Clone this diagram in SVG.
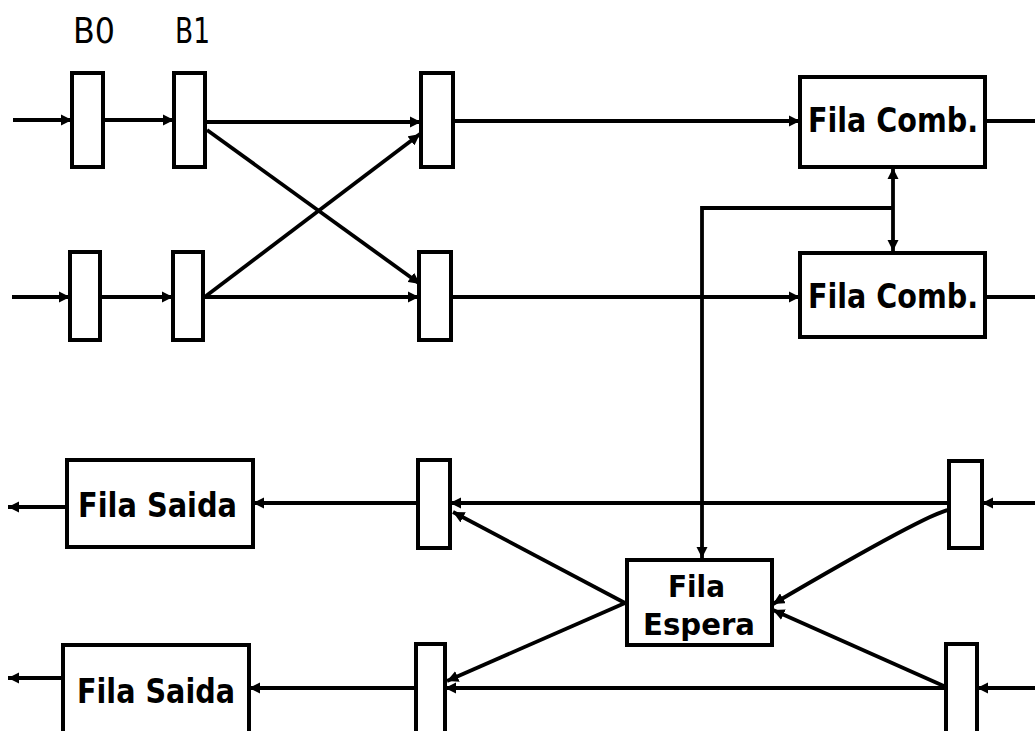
<svg xmlns="http://www.w3.org/2000/svg" width="1035" height="731" viewBox="0 0 1035 731">
<style>
.box{fill:#fff;stroke:#000;stroke-width:4}
.ln{fill:none;stroke:#000;stroke-width:3.8}
.la{fill:none;stroke:#000;stroke-width:3.8;marker-end:url(#ah)}
.lb{fill:none;stroke:#000;stroke-width:3.8;marker-end:url(#ah);marker-start:url(#as)}
.t{font-family:"DejaVu Sans Condensed","DejaVu Sans",sans-serif;font-weight:bold;font-size:33px;fill:#000}
.s{font-size:30px}
.h{font-family:"DejaVu Sans Condensed","DejaVu Sans",sans-serif;font-size:36px;fill:#000}
</style>
<defs>
<marker id="ah" viewBox="0 0 10 10" refX="10" refY="5" markerWidth="3" markerHeight="3" orient="auto" markerUnits="strokeWidth"><path d="M0,0 L10,5 L0,10 z" fill="#000"/></marker>
<marker id="as" viewBox="0 0 10 10" refX="0" refY="5" markerWidth="3" markerHeight="3" orient="auto" markerUnits="strokeWidth"><path d="M10,0 L0,5 L10,10 z" fill="#000"/></marker>
</defs>
<rect width="1035" height="731" fill="#fff"/>
<text class="h" x="73" y="43" textLength="42" lengthAdjust="spacingAndGlyphs">B0</text>
<text class="h" x="175" y="43" textLength="35" lengthAdjust="spacingAndGlyphs">B1</text>
<g id="connectors">
<line class="la" x1="13" y1="120" x2="72" y2="120"/>
<line class="la" x1="103" y1="120" x2="174" y2="120"/>
<line class="la" x1="205" y1="122" x2="421" y2="122"/>
<line class="la" x1="453" y1="121" x2="800" y2="121"/>
<line class="ln" x1="985" y1="121" x2="1035" y2="121"/>
<line class="la" x1="207" y1="130" x2="420" y2="284"/>
<line class="la" x1="206" y1="296" x2="420" y2="134"/>
<line class="la" x1="12" y1="297" x2="70" y2="297"/>
<line class="la" x1="100" y1="297" x2="173" y2="297"/>
<line class="la" x1="203" y1="297" x2="419" y2="297"/>
<line class="la" x1="451" y1="297" x2="800" y2="297"/>
<line class="ln" x1="985" y1="297" x2="1035" y2="297"/>
<line class="lb" x1="893" y1="168" x2="893" y2="251"/>
<polyline class="la" points="893,208 702,208 702,558"/>
<line class="la" x1="1035" y1="503" x2="982" y2="503"/>
<line class="la" x1="949" y1="503" x2="450" y2="503"/>
<line class="la" x1="418" y1="503" x2="253" y2="503"/>
<line class="la" x1="67" y1="507" x2="8" y2="507"/>
<path class="la" d="M949,510 Q930,512 773,604"/>
<line class="la" x1="946" y1="687" x2="773" y2="610"/>
<line class="la" x1="625" y1="603" x2="453" y2="512"/>
<line class="la" x1="625" y1="603" x2="447" y2="681"/>
<line class="la" x1="1035" y1="688" x2="977" y2="688"/>
<line class="la" x1="946" y1="688" x2="445" y2="688"/>
<line class="la" x1="416" y1="688" x2="249" y2="688"/>
<line class="la" x1="63" y1="678" x2="8" y2="678"/>
</g>
<g id="b0-top"><rect class="box" x="72" y="73" width="31" height="94"/></g>
<g id="b1-top"><rect class="box" x="174" y="73" width="31" height="94"/></g>
<g id="c3-top"><rect class="box" x="421" y="73" width="32" height="94"/></g>
<g id="b0-bot"><rect class="box" x="70" y="252" width="30" height="88"/></g>
<g id="b1-bot"><rect class="box" x="173" y="252" width="30" height="88"/></g>
<g id="c3-bot"><rect class="box" x="419" y="252" width="32" height="88"/></g>
<g id="comb1"><rect class="box" x="800" y="77" width="185" height="90"/><text class="t" x="808" y="132" textLength="170" lengthAdjust="spacingAndGlyphs">Fila Comb.</text></g>
<g id="comb2"><rect class="box" x="800" y="253" width="185" height="84"/><text class="t" x="808" y="308" textLength="170" lengthAdjust="spacingAndGlyphs">Fila Comb.</text></g>
<g id="saida1"><rect class="box" x="67" y="460" width="186" height="87"/><text class="t" x="78" y="517" textLength="159" lengthAdjust="spacingAndGlyphs">Fila Saida</text></g>
<g id="saida2"><rect class="box" x="63" y="645" width="186" height="95"/><text class="t" x="77" y="703" textLength="158" lengthAdjust="spacingAndGlyphs">Fila Saida</text></g>
<g id="c3-out1"><rect class="box" x="418" y="460" width="32" height="88"/></g>
<g id="c3-out2"><rect class="box" x="416" y="644" width="29" height="96"/></g>
<g id="r-out1"><rect class="box" x="949" y="461" width="33" height="87"/></g>
<g id="r-out2"><rect class="box" x="946" y="644" width="31" height="96"/></g>
<g id="espera"><rect class="box" x="627" y="560" width="145" height="85"/><text class="t s" x="668" y="597" textLength="57" lengthAdjust="spacingAndGlyphs">Fila</text><text class="t s" x="643" y="635" textLength="112" lengthAdjust="spacingAndGlyphs">Espera</text></g>
</svg>
